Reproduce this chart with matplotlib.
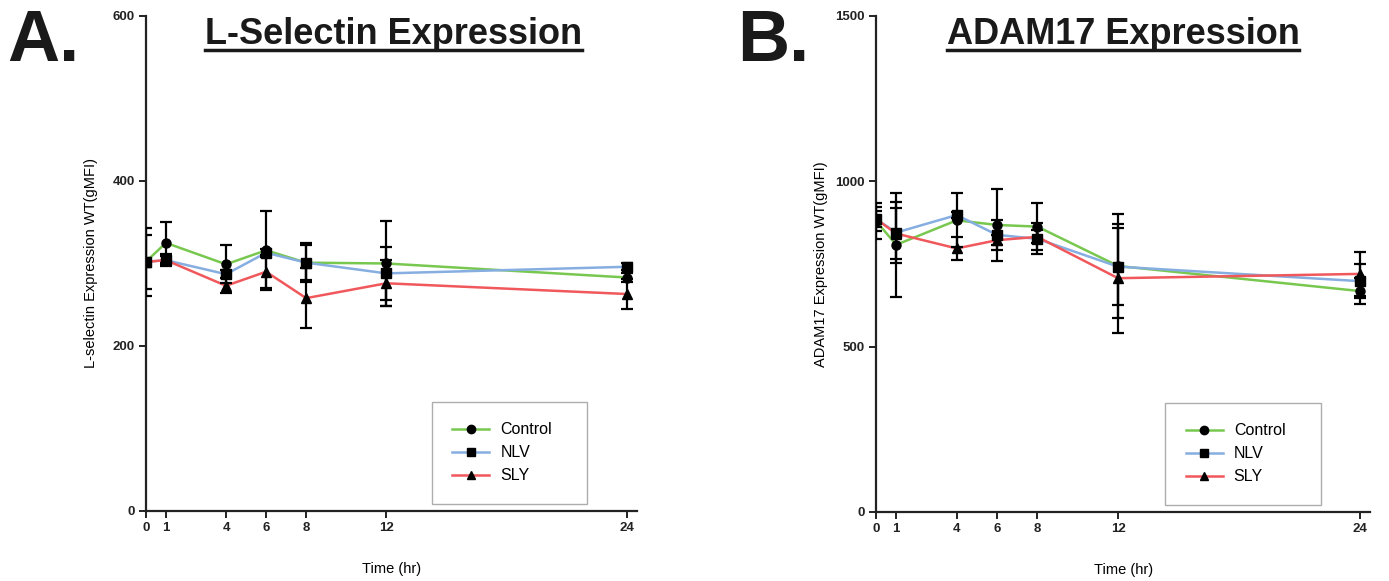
import matplotlib
matplotlib.use('Agg')
import matplotlib.pyplot as plt
from matplotlib.lines import Line2D

plt.rcParams['font.family'] = ['Liberation Sans', 'DejaVu Sans']

# Time points (hr)
times = [0, 1, 4, 6, 8, 12, 24]
groups = ['Control', 'NLV', 'SLY']

# Panel A - L-selectin gMFI (mean and error)
lsel_control = [302, 325, 299, 316, 301, 300, 283]
lsel_control_err = [41, 25, 23, 48, 21, 52, 6]
lsel_nlv = [302, 304, 287, 313, 301, 288, 296]
lsel_nlv_err = [33, 7, 5, 5, 24, 32, 4]
lsel_sly = [302, 304, 273, 290, 258, 276, 263]
lsel_sly_err = [5, 5, 9, 20, 36, 28, 18]

# Panel B - ADAM17 gMFI (mean and error)
adam_control = [880, 808, 882, 868, 863, 744, 668]
adam_control_err = [55, 158, 82, 109, 70, 156, 40]
adam_nlv = [886, 845, 898, 838, 826, 742, 698]
adam_nlv_err = [37, 92, 10, 46, 47, 116, 51]
adam_sly = [886, 842, 797, 822, 832, 707, 720]
adam_sly_err = [25, 76, 36, 15, 20, 165, 67]

colors = ['#78c850', '#86aee0', '#f0585c']
markers = ['o', 's', '^']

fig = plt.figure(figsize=(13.89, 5.81), dpi=100)
ax1 = fig.add_axes([0.105, 0.1205, 0.3535, 0.852])
ax2 = fig.add_axes([0.6307, 0.1188, 0.3557, 0.8537])


def draw_panel(ax, series, errs, ymax, yticks, ylabel, legx):
    for vals, err, c, m in zip(series, errs, colors, markers):
        ax.plot(times, vals, color=c, lw=1.8, zorder=2)
        ax.errorbar(times, vals, yerr=err, fmt=m, color='black', ms=6.5,
                    ecolor='black', elinewidth=1.6, capsize=4.5, capthick=1.6,
                    zorder=3)
    ax.set_xlim(0, 24.5)
    ax.set_ylim(0, ymax)
    ax.set_xticks(times)
    ax.set_yticks(yticks)
    for s in ['top', 'right']:
        ax.spines[s].set_visible(False)
    for s in ['left', 'bottom']:
        ax.spines[s].set_linewidth(1.6)
        ax.spines[s].set_color('#222222')
    ax.tick_params(width=1.4, length=5, labelsize=9.5, pad=3, colors='#222222')
    for lab in ax.get_xticklabels() + ax.get_yticklabels():
        lab.set_fontweight('bold')
    ax.set_ylabel(ylabel, fontsize=10.5)
    ax.yaxis.set_label_coords(-0.097, 0.5)
    ax.set_xlabel('Time (hr)', fontsize=10.5, labelpad=20)
    handles = [Line2D([], [], color=c, lw=1.8, marker=m, markerfacecolor='black',
                      markeredgecolor='black', ms=6) for c, m in zip(colors, markers)]
    leg = ax.legend(handles, groups, loc='lower left',
                    bbox_to_anchor=(legx, 0.014, 0.316, 0.19), mode='expand',
                    fontsize=11.5, frameon=True, fancybox=False, handlelength=2.3,
                    borderpad=1.3, labelspacing=0.5, handletextpad=0.7,
                    borderaxespad=0.0)
    leg.get_frame().set_edgecolor('#999999')
    leg.get_frame().set_linewidth(1.0)
    leg.set_zorder(1)


draw_panel(ax1, [lsel_control, lsel_nlv, lsel_sly],
           [lsel_control_err, lsel_nlv_err, lsel_sly_err],
           600, [0, 200, 400, 600], 'L-selectin Expression WT(gMFI)', 0.582)
draw_panel(ax2, [adam_control, adam_nlv, adam_sly],
           [adam_control_err, adam_nlv_err, adam_sly_err],
           1500, [0, 500, 1000, 1500], 'ADAM17 Expression WT(gMFI)', 0.585)

# Panel letters
fig.text(0.005, 0.895, 'A.', fontsize=52, fontweight='bold', color='#1a1a1a')
fig.text(0.531, 0.895, 'B.', fontsize=52, fontweight='bold', color='#1a1a1a')

# Titles with underline
titles = [
    fig.text(0.283, 0.925, 'L-Selectin Expression', fontsize=26, fontweight='bold',
             ha='center', va='baseline', color='#1a1a1a'),
    fig.text(0.8085, 0.925, 'ADAM17 Expression', fontsize=26, fontweight='bold',
             ha='center', va='baseline', color='#1a1a1a'),
]
fig.canvas.draw()
renderer = fig.canvas.get_renderer()
for t in titles:
    bb = t.get_window_extent(renderer).transformed(fig.transFigure.inverted())
    y = bb.y0 + 0.002
    fig.add_artist(Line2D([bb.x0, bb.x1], [y, y], transform=fig.transFigure,
                          color='#1a1a1a', lw=2.5))

fig.savefig('out.png', dpi=100)
